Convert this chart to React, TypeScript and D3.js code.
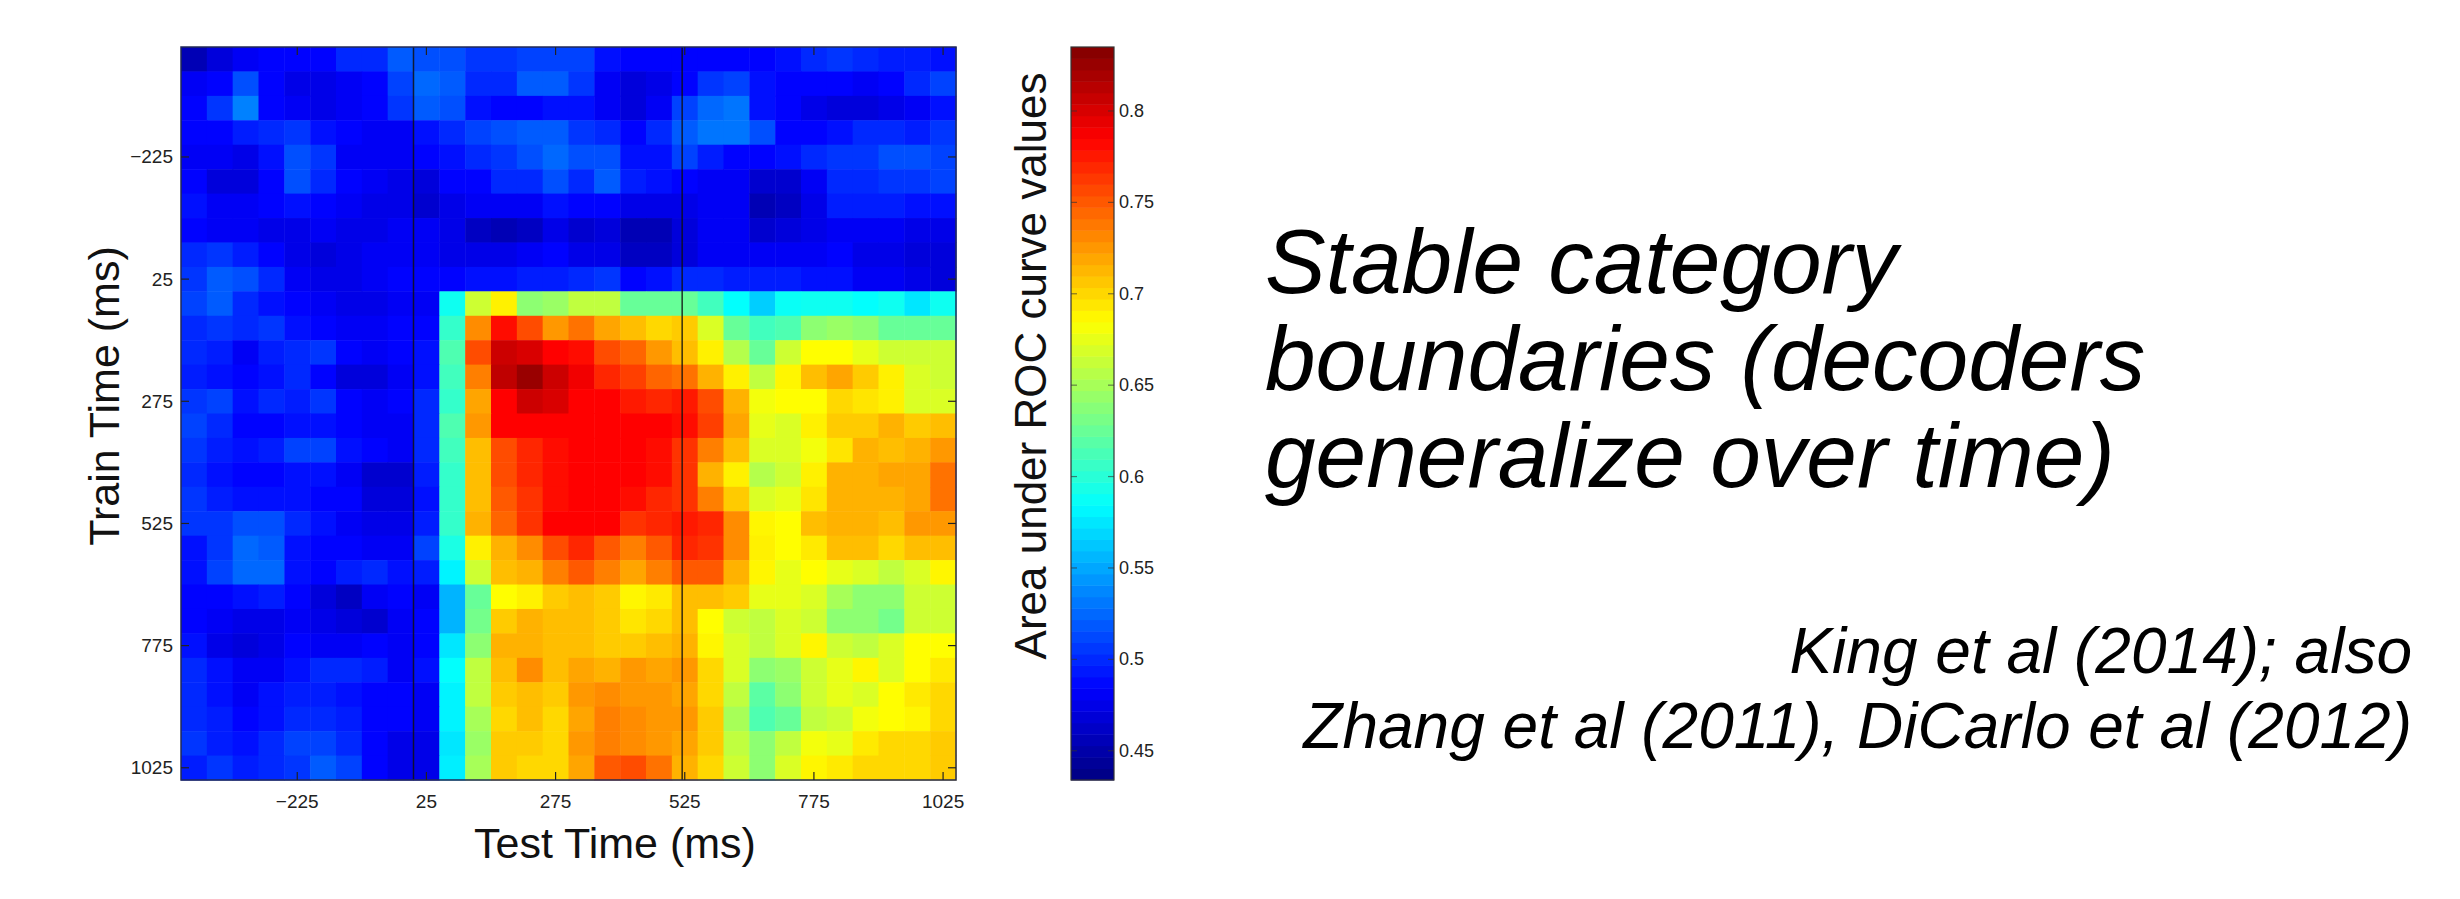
import React from "react";
import * as d3 from "d3";

// ---- data -----------------------------------------------------------------
// time bin centres (ms) shared by train (rows) and test (columns)
const timeBins = [-425, -375, -325, -275, -225, -175, -125, -75, -25, 25, 75, 125, 175, 225, 275, 325, 375, 425, 475, 525, 575, 625, 675, 725, 775, 825, 875, 925, 975, 1025];
const timeTicks = [-225, 25, 275, 525, 775, 1025];
const eventLines = [0, 520];
const colorDomain = [0.434, 0.835];
const colorTicks = [0.45, 0.5, 0.55, 0.6, 0.65, 0.7, 0.75, 0.8];

// AUC values, one array per train time (row), columns = test time
const train_m425 = [0.455,0.47,0.48,0.485,0.485,0.485,0.50,0.50,0.52,0.515,0.515,0.505,0.505,0.51,0.51,0.51,0.49,0.485,0.485,0.485,0.485,0.485,0.485,0.49,0.5,0.505,0.5,0.495,0.495,0.49];
const train_m375 = [0.48,0.485,0.515,0.485,0.475,0.475,0.48,0.485,0.51,0.525,0.52,0.5,0.5,0.52,0.52,0.505,0.48,0.47,0.475,0.485,0.505,0.51,0.49,0.485,0.485,0.485,0.48,0.485,0.5,0.51];
const train_m325 = [0.485,0.505,0.535,0.485,0.48,0.475,0.48,0.485,0.505,0.52,0.515,0.49,0.485,0.485,0.49,0.49,0.48,0.47,0.48,0.51,0.525,0.53,0.49,0.485,0.475,0.47,0.47,0.475,0.48,0.49];
const train_m275 = [0.485,0.485,0.495,0.5,0.505,0.49,0.485,0.48,0.48,0.49,0.5,0.51,0.515,0.52,0.52,0.505,0.5,0.485,0.5,0.52,0.53,0.53,0.515,0.485,0.485,0.49,0.5,0.5,0.495,0.505];
const train_m225 = [0.48,0.48,0.475,0.49,0.515,0.505,0.48,0.48,0.48,0.485,0.49,0.5,0.505,0.515,0.525,0.515,0.515,0.49,0.49,0.51,0.495,0.485,0.485,0.49,0.5,0.505,0.505,0.515,0.515,0.51];
const train_m175 = [0.485,0.47,0.47,0.485,0.515,0.5,0.485,0.48,0.475,0.47,0.485,0.485,0.5,0.5,0.515,0.5,0.52,0.495,0.49,0.485,0.48,0.48,0.465,0.465,0.48,0.5,0.5,0.505,0.505,0.51];
const train_m125 = [0.49,0.48,0.48,0.485,0.49,0.485,0.48,0.475,0.475,0.465,0.475,0.48,0.48,0.48,0.49,0.485,0.485,0.475,0.475,0.475,0.48,0.48,0.455,0.46,0.475,0.495,0.495,0.495,0.49,0.49];
const train_m75 = [0.485,0.48,0.48,0.475,0.475,0.48,0.475,0.475,0.48,0.48,0.475,0.46,0.455,0.46,0.475,0.465,0.47,0.455,0.455,0.47,0.48,0.48,0.465,0.47,0.475,0.48,0.48,0.48,0.475,0.475];
const train_m25 = [0.5,0.505,0.495,0.485,0.475,0.47,0.475,0.48,0.48,0.48,0.475,0.475,0.475,0.48,0.485,0.475,0.475,0.46,0.46,0.47,0.48,0.48,0.48,0.48,0.48,0.485,0.475,0.475,0.47,0.47];
const train_25 = [0.505,0.52,0.515,0.5,0.48,0.475,0.475,0.48,0.485,0.485,0.485,0.49,0.49,0.495,0.495,0.5,0.505,0.485,0.49,0.5,0.5,0.495,0.495,0.495,0.49,0.49,0.48,0.48,0.475,0.47];
const train_75 = [0.51,0.52,0.5,0.49,0.485,0.48,0.475,0.475,0.48,0.48,0.59,0.665,0.69,0.64,0.645,0.66,0.66,0.625,0.625,0.625,0.61,0.585,0.565,0.588,0.59,0.59,0.585,0.59,0.575,0.59];
const train_125 = [0.5,0.505,0.5,0.505,0.49,0.485,0.48,0.48,0.485,0.485,0.605,0.73,0.78,0.755,0.725,0.74,0.72,0.71,0.70,0.705,0.67,0.625,0.61,0.615,0.64,0.645,0.64,0.625,0.625,0.625];
const train_175 = [0.5,0.495,0.48,0.495,0.5,0.505,0.485,0.48,0.485,0.49,0.615,0.755,0.805,0.8,0.785,0.78,0.755,0.745,0.725,0.71,0.69,0.655,0.625,0.665,0.685,0.685,0.675,0.665,0.665,0.665];
const train_225 = [0.495,0.49,0.485,0.49,0.5,0.485,0.47,0.47,0.48,0.49,0.61,0.735,0.81,0.825,0.805,0.79,0.77,0.76,0.745,0.74,0.715,0.69,0.66,0.688,0.71,0.72,0.705,0.69,0.67,0.665];
const train_275 = [0.505,0.51,0.49,0.5,0.495,0.505,0.485,0.48,0.485,0.5,0.605,0.72,0.785,0.805,0.8,0.785,0.785,0.775,0.77,0.775,0.755,0.715,0.68,0.685,0.685,0.7,0.695,0.69,0.67,0.67];
const train_325 = [0.51,0.5,0.485,0.485,0.49,0.49,0.485,0.48,0.48,0.5,0.615,0.725,0.785,0.785,0.785,0.785,0.785,0.785,0.785,0.78,0.76,0.72,0.675,0.67,0.69,0.705,0.705,0.715,0.705,0.71];
const train_375 = [0.505,0.495,0.49,0.495,0.51,0.51,0.49,0.485,0.48,0.5,0.61,0.71,0.755,0.77,0.78,0.785,0.785,0.785,0.78,0.765,0.735,0.71,0.67,0.67,0.68,0.695,0.715,0.71,0.715,0.725];
const train_425 = [0.5,0.49,0.485,0.485,0.49,0.49,0.48,0.465,0.465,0.495,0.605,0.71,0.755,0.77,0.78,0.785,0.785,0.785,0.78,0.765,0.715,0.69,0.655,0.665,0.69,0.715,0.715,0.72,0.72,0.74];
const train_475 = [0.505,0.495,0.49,0.49,0.49,0.485,0.485,0.47,0.47,0.49,0.605,0.71,0.75,0.765,0.78,0.785,0.785,0.78,0.77,0.765,0.735,0.705,0.67,0.675,0.695,0.715,0.715,0.715,0.72,0.74];
const train_525 = [0.505,0.505,0.515,0.515,0.5,0.49,0.48,0.475,0.475,0.495,0.605,0.715,0.745,0.765,0.785,0.785,0.785,0.765,0.77,0.775,0.77,0.73,0.688,0.685,0.71,0.715,0.715,0.71,0.725,0.725];
const train_575 = [0.49,0.505,0.525,0.52,0.49,0.485,0.485,0.48,0.48,0.51,0.595,0.69,0.715,0.73,0.755,0.77,0.75,0.735,0.75,0.77,0.765,0.73,0.69,0.685,0.693,0.71,0.71,0.70,0.71,0.71];
const train_625 = [0.49,0.51,0.525,0.525,0.49,0.485,0.495,0.5,0.49,0.495,0.58,0.665,0.71,0.715,0.735,0.75,0.735,0.72,0.735,0.75,0.75,0.715,0.688,0.675,0.685,0.675,0.67,0.66,0.67,0.688];
const train_675 = [0.485,0.485,0.49,0.495,0.485,0.47,0.46,0.48,0.485,0.48,0.555,0.625,0.685,0.69,0.705,0.71,0.705,0.688,0.693,0.71,0.71,0.705,0.675,0.675,0.67,0.65,0.64,0.64,0.665,0.665];
const train_725 = [0.485,0.48,0.475,0.475,0.48,0.475,0.47,0.465,0.48,0.485,0.555,0.63,0.705,0.715,0.71,0.71,0.705,0.695,0.70,0.71,0.685,0.665,0.66,0.67,0.665,0.64,0.64,0.63,0.665,0.665];
const train_775 = [0.49,0.475,0.47,0.475,0.485,0.48,0.48,0.485,0.48,0.485,0.575,0.64,0.715,0.715,0.71,0.71,0.705,0.705,0.71,0.715,0.688,0.67,0.66,0.67,0.688,0.665,0.66,0.67,0.685,0.685];
const train_825 = [0.5,0.49,0.48,0.48,0.49,0.5,0.5,0.495,0.48,0.49,0.585,0.66,0.71,0.73,0.71,0.72,0.715,0.725,0.72,0.725,0.70,0.67,0.64,0.645,0.665,0.675,0.688,0.67,0.685,0.693];
const train_875 = [0.5,0.49,0.48,0.49,0.495,0.495,0.49,0.485,0.485,0.48,0.58,0.66,0.705,0.71,0.705,0.725,0.73,0.725,0.725,0.72,0.70,0.66,0.62,0.64,0.665,0.675,0.67,0.685,0.693,0.70];
const train_925 = [0.5,0.495,0.485,0.49,0.5,0.5,0.495,0.485,0.485,0.48,0.58,0.65,0.70,0.71,0.70,0.72,0.735,0.73,0.725,0.725,0.705,0.65,0.615,0.625,0.66,0.665,0.68,0.685,0.688,0.70];
const train_975 = [0.505,0.495,0.49,0.5,0.51,0.51,0.5,0.485,0.475,0.475,0.575,0.645,0.705,0.705,0.70,0.725,0.735,0.73,0.725,0.72,0.705,0.66,0.64,0.66,0.68,0.675,0.693,0.70,0.70,0.705];
const train_1025 = [0.495,0.505,0.495,0.5,0.505,0.52,0.51,0.485,0.475,0.475,0.578,0.65,0.705,0.70,0.70,0.72,0.75,0.755,0.74,0.715,0.70,0.665,0.64,0.67,0.688,0.693,0.70,0.70,0.70,0.705];

const aucRows = [train_m425, train_m375, train_m325, train_m275, train_m225, train_m175, train_m125, train_m75, train_m25, train_25,
  train_75, train_125, train_175, train_225, train_275, train_325, train_375, train_425, train_475, train_525,
  train_575, train_625, train_675, train_725, train_775, train_825, train_875, train_925, train_975, train_1025];

const xLabel = "Test Time (ms)";
const yLabel = "Train Time (ms)";
const cbLabel = "Area under ROC curve values";
const titleLines = ["Stable category", "boundaries (decoders", "generalize over time)"];
const citeLines = ["King et al (2014); also", "Zhang et al (2011), DiCarlo et al (2012)"];

// ---- jet colormap ----------------------------------------------------------
const jetStops = ["#000080", "#0000ff", "#00ffff", "#ffff00", "#ff0000", "#800000"];
const jetPos = [0, 0.125, 0.375, 0.625, 0.875, 1];

export default function App() {
  const W = 2460, H = 899;
  const hm = { left: 181, right: 956, top: 47, bottom: 780 };
  const binW = 50;
  const x = d3.scaleLinear().domain([timeBins[0] - binW / 2, timeBins[timeBins.length - 1] + binW / 2]).range([hm.left, hm.right]);
  const y = d3.scaleLinear().domain([timeBins[0] - binW / 2, timeBins[timeBins.length - 1] + binW / 2]).range([hm.top, hm.bottom]);
  const color = d3.scaleLinear<string>()
    .domain(jetPos.map((p) => colorDomain[0] + p * (colorDomain[1] - colorDomain[0])))
    .range(jetStops)
    .interpolate(d3.interpolateRgb)
    .clamp(true);

  const cb = { left: 1071, right: 1114 };
  const cy = d3.scaleLinear().domain(colorDomain).range([hm.bottom, hm.top]);
  const nBands = 64;
  const bands = d3.range(nBands).map((i) => {
    const v0 = colorDomain[0] + (i / nBands) * (colorDomain[1] - colorDomain[0]);
    const v1 = colorDomain[0] + ((i + 1) / nBands) * (colorDomain[1] - colorDomain[0]);
    return { v0, v1, c: color((v0 + v1) / 2) };
  });

  const tickLen = 8;
  const font = "'Liberation Sans', Arial, Helvetica, sans-serif";

  return (
    <svg width={W} height={H} style={{ position: "absolute", left: 0, top: 0, background: "#fff" }} fontFamily={font}>
      <rect x={0} y={0} width={W} height={H} fill="#fff" />
      {/* heatmap cells */}
      <g>
        {aucRows.map((row, ri) =>
          row.map((v, ci) => (
            <rect
              key={`${ri}-${ci}`}
              x={x(timeBins[ci] - binW / 2)}
              y={y(timeBins[ri] - binW / 2)}
              width={x(timeBins[ci] + binW / 2) - x(timeBins[ci] - binW / 2) + 0.5}
              height={y(timeBins[ri] + binW / 2) - y(timeBins[ri] - binW / 2) + 0.5}
              fill={color(v)}
            />
          ))
        )}
      </g>
      {/* event lines */}
      {eventLines.map((t) => (
        <line key={t} x1={x(t)} x2={x(t)} y1={hm.top} y2={hm.bottom} stroke="#111" strokeWidth={1.5} opacity={0.85} />
      ))}
      {/* axes box */}
      <rect x={hm.left} y={hm.top} width={hm.right - hm.left} height={hm.bottom - hm.top} fill="none" stroke="#222a55" strokeWidth={1.5} />
      {/* ticks */}
      {timeTicks.map((t) => (
        <g key={`xt${t}`} stroke="#222" strokeWidth={1.2}>
          <line x1={x(t)} x2={x(t)} y1={hm.bottom} y2={hm.bottom - tickLen} />
          <line x1={x(t)} x2={x(t)} y1={hm.top} y2={hm.top + tickLen} />
          <line x1={hm.left} x2={hm.left + tickLen} y1={y(t)} y2={y(t)} />
          <line x1={hm.right} x2={hm.right - tickLen} y1={y(t)} y2={y(t)} />
        </g>
      ))}
      {timeTicks.map((t) => (
        <text key={`xl${t}`} x={x(t)} y={808} textAnchor="middle" fontSize={19} fill="#222">
          {t < 0 ? `\u2212${Math.abs(t)}` : t}
        </text>
      ))}
      {timeTicks.map((t) => (
        <text key={`yl${t}`} x={173} y={y(t)} textAnchor="end" dominantBaseline="central" fontSize={19} fill="#222">
          {t < 0 ? `\u2212${Math.abs(t)}` : t}
        </text>
      ))}
      <text x={615} y={858} textAnchor="middle" fontSize={43} fill="#111">{xLabel}</text>
      <text transform={`translate(119,396) rotate(-90)`} textAnchor="middle" fontSize={43} fill="#111">{yLabel}</text>

      {/* colorbar */}
      <g>
        {bands.map((b, i) => (
          <rect key={i} x={cb.left} width={cb.right - cb.left} y={cy(b.v1)} height={cy(b.v0) - cy(b.v1) + 0.5} fill={b.c} />
        ))}
        <rect x={cb.left} y={hm.top} width={cb.right - cb.left} height={hm.bottom - hm.top} fill="none" stroke="#333" strokeWidth={1.2} />
        {colorTicks.map((v) => (
          <g key={v} stroke="#333" strokeWidth={1.2} opacity={0.6}>
            <line x1={cb.left} x2={cb.left + 6} y1={cy(v)} y2={cy(v)} />
            <line x1={cb.right} x2={cb.right - 6} y1={cy(v)} y2={cy(v)} />
          </g>
        ))}
        {colorTicks.map((v) => (
          <text key={`cl${v}`} x={1119} y={cy(v)} dominantBaseline="central" fontSize={18} fill="#222">{String(v)}</text>
        ))}
        <text transform={`translate(1046,366) rotate(-90)`} textAnchor="middle" fontSize={44} fill="#111">{cbLabel}</text>
      </g>

      {/* slide text */}
      {titleLines.map((s, i) => (
        <text key={s} x={1265} y={293 + i * 97} fontSize={91} fontStyle="italic" fill="#000">{s}</text>
      ))}
      {citeLines.map((s, i) => (
        <text key={s} x={2412} y={673 + i * 75} textAnchor="end" fontSize={64} fontStyle="italic" fill="#000">{s}</text>
      ))}
    </svg>
  );
}
